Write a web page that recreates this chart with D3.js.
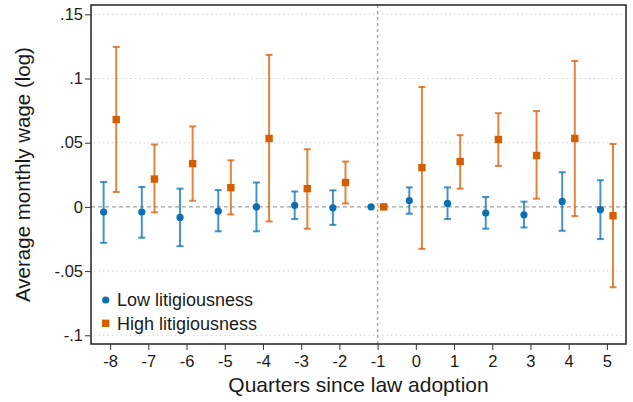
<!DOCTYPE html>
<html>
<head>
<meta charset="utf-8">
<script src="https://d3js.org/d3.v7.min.js"></script>
<style>
  body { margin: 0; background: #fff; }
  text { font-family: "Liberation Sans", Arial, sans-serif; fill: #1a1a1a; }
</style>
</head>
<body>
<div id="chart"></div>
<script>
// quarters relative to adoption
var quarters = [-8, -7, -6, -5, -4, -3, -2, -1, 0, 1, 2, 3, 4, 5];

// low litigiousness: estimate, ci low, ci high
var lowEst = [-0.004, -0.004, -0.0082, -0.0033, 0.0, 0.0012, -0.0007, 0.0, 0.005, 0.0027, -0.0048, -0.0061, 0.0043, -0.0022];
var lowLo  = [-0.028, -0.024, -0.0306, -0.019, -0.019, -0.0095, -0.014, null, -0.0053, -0.0095, -0.017, -0.016, -0.0186, -0.0251];
var lowHi  = [0.0194, 0.0155, 0.0142, 0.0131, 0.019, 0.012, 0.0129, null, 0.0152, 0.0152, 0.0077, 0.0041, 0.027, 0.0207];

// high litigiousness
var highEst = [0.068, 0.0217, 0.0337, 0.015, 0.0533, 0.0142, 0.019, 0.0, 0.0306, 0.0353, 0.0525, 0.04, 0.0533, -0.0069];
var highLo  = [0.0116, -0.0043, 0.0048, -0.0059, -0.0113, -0.017, 0.0027, null, -0.0327, 0.0142, 0.0319, 0.0064, -0.0072, -0.0626];
var highHi  = [0.1246, 0.0486, 0.0627, 0.0363, 0.1184, 0.0449, 0.0353, null, 0.0934, 0.0559, 0.073, 0.0746, 0.1137, 0.049];

var yTicks = [-0.1, -0.05, 0, 0.05, 0.1, 0.15];
var yTickLabels = ["-.1", "-.05", "0", ".05", ".1", ".15"];

var blue = "#0a70b3", orange = "#d55e00";

var W = 633, H = 402;
var margin = {left: 91, right: 7, top: 5, bottom: 58};

var svg = d3.select("#chart").append("svg")
    .attr("width", W).attr("height", H);

var x = d3.scaleLinear().domain([-8.5, 5.5]).range([margin.left, W - margin.right]);
var y = d3.scaleLinear().domain([-0.1, 0.15]).range([335.3, 14.3]);

var plotTop = margin.top, plotBottom = H - margin.bottom;

// grid lines
svg.selectAll(".grid").data(yTicks.filter(function(d){ return d != 0; }))
  .enter().append("line")
  .attr("x1", margin.left + 3).attr("x2", W - margin.right - 3)
  .attr("y1", function(d){ return y(d); }).attr("y2", function(d){ return y(d); })
  .style("stroke", "#d4d4d4").style("stroke-width", 1)
  .style("stroke-dasharray", "1.5,3");

// zero line
svg.append("line")
  .attr("x1", margin.left).attr("x2", W - margin.right)
  .attr("y1", y(0)).attr("y2", y(0))
  .style("stroke", "#8a8a8a").style("stroke-width", 1)
  .style("stroke-dasharray", "4,3");

// vertical line at -1
svg.append("line")
  .attr("x1", x(-1)).attr("x2", x(-1))
  .attr("y1", plotTop).attr("y2", plotBottom)
  .style("stroke", "#a8a8a8").style("stroke-width", 1.5)
  .style("stroke-dasharray", "3,3");

function drawSeries(est, lo, hi, off, color, shape) {
  var rows = quarters.map(function(q, i){ return {q: q, e: est[i], lo: lo[i], hi: hi[i]}; });
  var ci = rows.filter(function(d){ return d.lo !== null; });
  var g = svg.append("g");
  g.selectAll(".bar").data(ci).enter().append("line")
    .attr("x1", function(d){ return x(d.q + off); }).attr("x2", function(d){ return x(d.q + off); })
    .attr("y1", function(d){ return y(d.lo); }).attr("y2", function(d){ return y(d.hi); })
    .style("stroke", color).style("stroke-width", 2).style("stroke-opacity", 0.75);
  ["lo", "hi"].forEach(function(k){
    g.selectAll(".cap" + k).data(ci).enter().append("line")
      .attr("x1", function(d){ return x(d.q + off) - 3.5; }).attr("x2", function(d){ return x(d.q + off) + 3.5; })
      .attr("y1", function(d){ return y(d[k]); }).attr("y2", function(d){ return y(d[k]); })
      .style("stroke", color).style("stroke-width", 2).style("stroke-opacity", 0.75);
  });
  if (shape == "circle") {
    g.selectAll(".pt").data(rows).enter().append("circle")
      .attr("cx", function(d){ return x(d.q + off); })
      .attr("cy", function(d){ return y(d.e); })
      .attr("r", 3.6).style("fill", color);
  } else {
    g.selectAll(".pt").data(rows).enter().append("rect")
      .attr("x", function(d){ return x(d.q + off) - 3.7; })
      .attr("y", function(d){ return y(d.e) - 3.7; })
      .attr("width", 7.4).attr("height", 7.4).style("fill", color);
  }
}

drawSeries(lowEst, lowLo, lowHi, -0.17, blue, "circle");
drawSeries(highEst, highLo, highHi, 0.16, orange, "square");

// frame
svg.append("rect")
  .attr("x", margin.left).attr("y", plotTop)
  .attr("width", W - margin.right - margin.left).attr("height", plotBottom - plotTop)
  .style("fill", "none").style("stroke", "#222").style("stroke-width", 1.5);

// y axis
var yAxis = d3.axisLeft(y).tickValues(yTicks).tickSize(6).tickPadding(2)
  .tickFormat(function(d, i){ return yTickLabels[i]; });
var gy = svg.append("g").attr("transform", "translate(" + margin.left + ",0)").call(yAxis);
gy.select(".domain").remove();
gy.selectAll("line").style("stroke", "#333");
gy.selectAll("text").style("font-size", "16.5px").style("font-family", "Liberation Sans, Arial, sans-serif").style("fill", "#1a1a1a");

// x axis
var xAxis = d3.axisBottom(x).tickValues(quarters).tickSize(6).tickPadding(5)
  .tickFormat(function(d){ return d; });
var gx = svg.append("g").attr("transform", "translate(0," + plotBottom + ")").call(xAxis);
gx.select(".domain").remove();
gx.selectAll("line").style("stroke", "#333");
gx.selectAll("text").style("font-size", "16.5px").style("font-family", "Liberation Sans, Arial, sans-serif").style("fill", "#1a1a1a");

// axis titles
svg.append("text")
  .attr("x", (margin.left + W - margin.right) / 2).attr("y", 392)
  .attr("text-anchor", "middle").style("font-size", "21px")
  .text("Quarters since law adoption");

svg.append("text")
  .attr("transform", "translate(30," + ((plotTop + plotBottom) / 2) + ") rotate(-90)")
  .attr("text-anchor", "middle").style("font-size", "20.5px")
  .text("Average monthly wage (log)");

// legend
svg.append("circle").attr("cx", 105.7).attr("cy", 300).attr("r", 3.6).style("fill", blue);
svg.append("text").attr("x", 117).attr("y", 306).style("font-size", "18px").text("Low litigiousness");
svg.append("rect").attr("x", 102).attr("y", 319.6).attr("width", 7.4).attr("height", 7.4).style("fill", orange);
svg.append("text").attr("x", 117).attr("y", 329.5).style("font-size", "18px").text("High litigiousness");
</script>
</body>
</html>
